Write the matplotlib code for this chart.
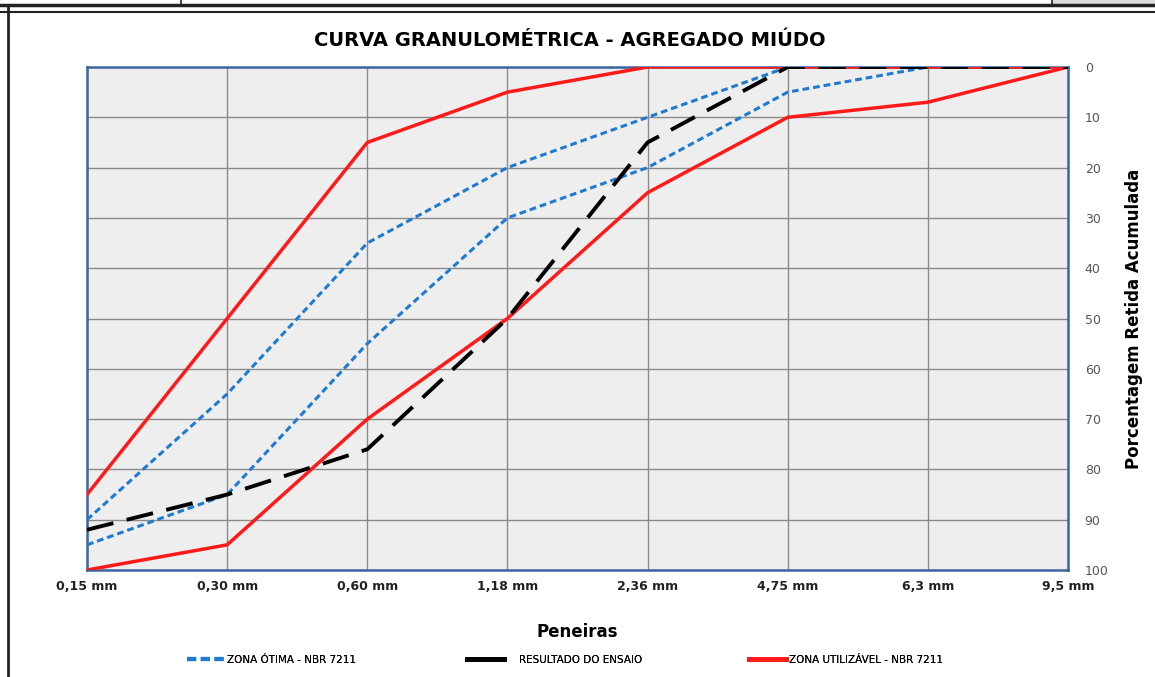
import matplotlib.pyplot as plt
from matplotlib.lines import Line2D
from matplotlib.patches import Rectangle

# sieve openings (x categories)
peneiras = ['0,15 mm', '0,30 mm', '0,60 mm', '1,18 mm', '2,36 mm', '4,75 mm', '6,3 mm', '9,5 mm']

# NBR 7211 limits (% retida acumulada)
utilizavel_sup = [85, 50, 15, 5, 0, 0, 0, 0]
utilizavel_inf = [100, 95, 70, 50, 25, 10, 7, 0]
otima_sup = [90, 65, 35, 20, 10, 0, 0, 0]
otima_inf = [95, 85, 55, 30, 20, 5, 0, 0]

# test result
ensaio = [92, 85, 76, 50, 15, 0, 0, 0]

yticks = [0, 10, 20, 30, 40, 50, 60, 70, 80, 90, 100]

BLUE = '#1f7bd0'
RED = '#ff1a1a'
SPINE = '#3d65a0'

fig = plt.figure(figsize=(11.55, 6.77), dpi=100)
ax = fig.add_axes([87 / 1155, 1 - 570 / 677, 981 / 1155, 503 / 677])
ax.set_facecolor('#eeeeee')

x = list(range(len(peneiras)))

ax.plot(x, otima_sup, color=BLUE, lw=2.2, ls=(0, (2.2, 1.3)), zorder=3)
ax.plot(x, otima_inf, color=BLUE, lw=2.2, ls=(0, (2.2, 1.3)), zorder=3)
ax.plot(x, utilizavel_sup, color=RED, lw=2.5, zorder=4)
ax.plot(x, utilizavel_inf, color=RED, lw=2.5, zorder=4)
ax.plot(x, ensaio, color='black', lw=2.8, ls=(0, (7, 3.5)), zorder=5)

ax.set_xlim(0, len(peneiras) - 1)
ax.set_ylim(100, 0)
ax.set_xticks(x)
ax.set_xticklabels(peneiras, fontsize=9, fontweight='bold', color='#222222')
ax.set_yticks(yticks)
ax.yaxis.tick_right()
ax.yaxis.set_label_position('right')
ax.tick_params(axis='y', labelsize=9, colors='#555555', length=0, pad=12)
ax.tick_params(axis='x', length=0, pad=7)
ax.grid(True, color='#8a8a8a', lw=1)
ax.set_axisbelow(True)
for s in ax.spines.values():
    s.set_color(SPINE)
    s.set_linewidth(1.8)

ax.set_ylabel('Porcentagem Retida Acumulada', fontsize=12, fontweight='bold',
              labelpad=12, rotation=90)
ax.set_xlabel('Peneiras', fontsize=12, fontweight='bold', labelpad=22)

fig.text(0.493, 1 - 40 / 677, 'CURVA GRANULOMÉTRICA - AGREGADO MIÚDO',
         ha='center', va='center', fontsize=14, fontweight='bold')

# legend entries placed one by one, like the spreadsheet layout
handles = [
    Line2D([], [], color=BLUE, lw=3, ls=(0, (2.2, 1.1))),
    Line2D([], [], color='black', lw=3.5),
    Line2D([], [], color=RED, lw=3.5),
]
labels = ['ZONA ÓTIMA - NBR 7211', 'RESULTADO DO ENSAIO', 'ZONA UTILIZÁVEL - NBR 7211']
leg_x = [183, 463, 745]
leg_pad = [0.3, 1.5, 0.3]
for h, lab, lx, pad in zip(handles, labels, leg_x, leg_pad):
    leg = fig.legend([h], [lab], loc='center left',
                     bbox_to_anchor=(lx / 1155, 1 - 660 / 677),
                     frameon=False, fontsize=7.5, handlelength=3.5,
                     handletextpad=pad, borderaxespad=0)
    fig.add_artist(leg)

# surrounding frame from the spreadsheet
fig.add_artist(Line2D([0, 1], [1 - 5 / 677] * 2, color='#222222', lw=2.5))
fig.add_artist(Line2D([0, 1], [1 - 12 / 677] * 2, color='#222222', lw=1.5))
fig.add_artist(Line2D([8 / 1155] * 2, [0, 1 - 5 / 677], color='#222222', lw=2))
fig.add_artist(Line2D([181 / 1155] * 2, [1 - 5 / 677, 1], color='#222222', lw=1.2))
fig.add_artist(Line2D([1052 / 1155] * 2, [1 - 5 / 677, 1], color='#222222', lw=1.2))
fig.add_artist(Rectangle((1053 / 1155, 1 - 5 / 677), 1, 5 / 677,
                         color='#dddddd', transform=fig.transFigure, zorder=0))

fig.savefig('out.png', dpi=100)
